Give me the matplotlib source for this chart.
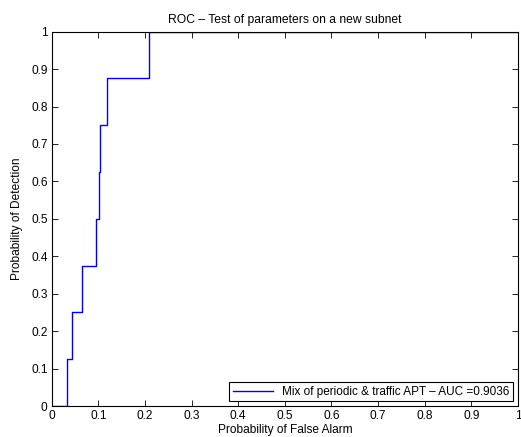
import matplotlib.pyplot as plt
import numpy as np

# ROC step curve
pfa = [0, 0.0336, 0.0429, 0.0657, 0.0943, 0.1014, 0.1036, 0.1179, 0.2079, 1.0]
pd_ = [0, 0.125, 0.25, 0.375, 0.5, 0.625, 0.75, 0.875, 1.0, 1.0]
ticks = [0, 0.1, 0.2, 0.3, 0.4, 0.5, 0.6, 0.7, 0.8, 0.9, 1]
tick_labels = ['0', '0.1', '0.2', '0.3', '0.4', '0.5', '0.6', '0.7', '0.8', '0.9', '1']
legend_label = 'Mix of periodic & traffic APT \u2013 AUC =0.9036'

plt.rcParams['font.family'] = ['Liberation Sans', 'DejaVu Sans']
plt.rcParams['font.size'] = 8.6

fig = plt.figure(figsize=(5.21, 4.37), dpi=100)
ax = fig.add_axes([0.0992, 0.0709, 0.8950, 0.8566])

ax.step(pfa, pd_, where='post', color='#0000ff', lw=1.0, label=legend_label)

ax.set_xlim(0, 1)
ax.set_ylim(0, 1)
ax.set_xticks(ticks)
ax.set_xticklabels(tick_labels)
ax.set_yticks(ticks)
ax.set_yticklabels(tick_labels)
ax.tick_params(direction='in', top=True, right=True, length=4, width=0.6, pad=3)
for s in ax.spines.values():
    s.set_linewidth(0.8)

ax.set_title('ROC \u2013 Test of parameters on a new subnet', fontsize=8.7, pad=6)
ax.set_xlabel('Probability of False Alarm', labelpad=1)
ax.set_ylabel('Probability of Detection', labelpad=6)

leg = ax.legend(loc='lower right', fancybox=False, edgecolor='black', framealpha=1,
                borderaxespad=0.4, handlelength=3.4, borderpad=0.3, fontsize=8.5)
leg.get_frame().set_linewidth(0.8)

fig.savefig('out.png', dpi=100)
